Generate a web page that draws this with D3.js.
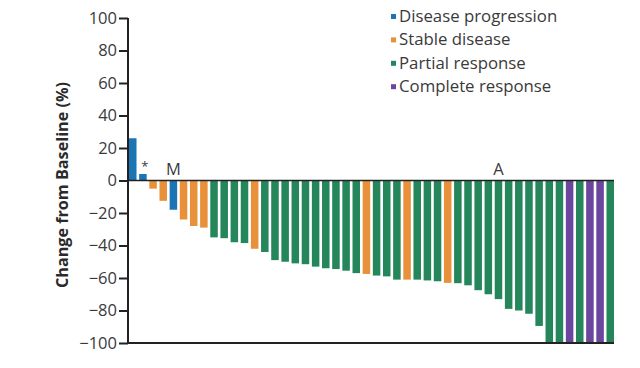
<!DOCTYPE html>
<html><head><meta charset="utf-8">
<script src="https://cdn.jsdelivr.net/npm/d3@7"></script>
<style>html,body{margin:0;padding:0;background:#fff;}svg{display:block;}</style>
</head><body>
<svg id="chart" width="640" height="368"></svg>
<script>
// Data
const categories = ["Disease progression","Stable disease","Partial response","Complete response"];
const colors = ["#1b75b5","#e8913a","#24865a","#6a479c"];
const patientResponse = ["Disease progression","Disease progression","Stable disease","Stable disease","Disease progression","Stable disease","Stable disease","Stable disease",
 "Partial response","Partial response","Partial response","Partial response","Stable disease","Partial response","Partial response","Partial response",
 "Partial response","Partial response","Partial response","Partial response","Partial response","Partial response","Partial response","Stable disease",
 "Partial response","Partial response","Partial response","Stable disease","Partial response","Partial response","Partial response","Stable disease",
 "Partial response","Partial response","Partial response","Partial response","Partial response","Partial response","Partial response","Partial response",
 "Partial response","Partial response","Partial response","Complete response","Partial response","Complete response","Complete response","Partial response"];
const changeValues = [26,4,-5,-12.5,-18,-24,-28,-29,
 -35,-35.5,-38,-38.5,-42,-44,-49,-50,
 -51,-51.5,-53,-54,-54.5,-55.5,-57,-57.5,
 -58.5,-59,-61,-61,-61,-61.5,-62,-63,
 -63.2,-64.5,-67.5,-70,-73,-79,-80,-82,
 -89.5,-100,-100,-100,-100,-100,-100,-100];
const yTicks = [100,80,60,40,20,0,-20,-40,-60,-80,-100];
const annotations = [{bar:2,text:"*"},{bar:5,text:"M"},{bar:37,text:"A"}];

const svg = d3.select("#chart");
const font = "'Open Sans', sans-serif";
const textColor = "#3a3a3a";

const x = d3.scaleBand().domain(d3.range(1, changeValues.length + 1)).range([129, 614]).paddingInner(0.26).paddingOuter(0);
const y = d3.scaleLinear().domain([-100, 100]).range([343, 18]);
const color = d3.scaleOrdinal().domain(categories).range(colors);

// bars
svg.append("g").selectAll("rect").data(changeValues).join("rect")
  .attr("x", (d, i) => x(i + 1))
  .attr("width", x.bandwidth())
  .attr("y", d => y(Math.max(0, d)))
  .attr("height", d => Math.abs(y(d) - y(0)))
  .attr("fill", (d, i) => color(patientResponse[i]));

// zero line
svg.append("line").attr("x1", 128).attr("x2", 614).attr("y1", y(0)).attr("y2", y(0))
  .attr("stroke", "#222").attr("stroke-width", 1.5);
// bottom line
svg.append("line").attr("x1", 128).attr("x2", 614).attr("y1", y(-100)).attr("y2", y(-100))
  .attr("stroke", "#222").attr("stroke-width", 2);

// y axis
const yAxis = d3.axisLeft(y).tickValues(yTicks).tickSize(9).tickPadding(2)
  .tickFormat(d => d < 0 ? "\u2212" + Math.abs(d) : String(d));
const ga = svg.append("g").attr("transform", "translate(128,0)").call(yAxis);
ga.select(".domain").attr("stroke", "#222").attr("stroke-width", 2).attr("d", "M0," + y(100) + "V" + (y(-100) + 1));
ga.selectAll(".tick line").attr("stroke", "#222").attr("stroke-width", 2);
ga.selectAll(".tick text").attr("font-family", font).attr("font-size", 16.5).attr("fill", textColor);

// y title
svg.append("text").attr("transform", "translate(68," + 185 + ") rotate(-90)")
  .attr("text-anchor", "middle").attr("font-family", font).attr("font-weight", "bold")
  .attr("font-size", 16.2).attr("fill", "#2a2a2a").text("Change from Baseline (%)");

// annotations
svg.append("g").selectAll("text").data(annotations).join("text")
  .attr("x", d => x(d.bar) + x.bandwidth() / 2 + (d.text === "*" ? 2 : 0))
  .attr("y", d => d.text === "*" ? y(changeValues[d.bar - 1]) - 3 : 175)
  .attr("text-anchor", "middle").attr("font-family", font)
  .attr("font-size", d => d.text === "*" ? 13 : 16.5).attr("fill", textColor)
  .text(d => d.text);

// legend
const lg = svg.append("g").selectAll("g").data(categories).join("g")
  .attr("transform", (d, i) => "translate(391," + (16 + i * 23.4) + ")");
lg.append("rect").attr("x", 0).attr("y", -2).attr("width", 5).attr("height", 5).attr("fill", d => color(d));
lg.append("text").attr("x", 8).attr("y", 0).attr("dy", "0.35em").attr("font-family", font)
  .attr("font-size", 16.8).attr("fill", textColor).text(d => d);
</script>
</body></html>
